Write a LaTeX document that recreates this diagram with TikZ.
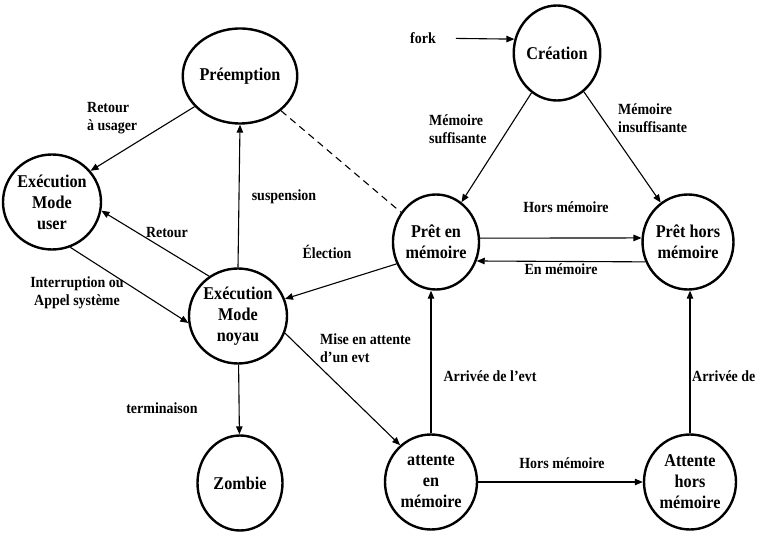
\documentclass[tikz,border=0pt]{standalone}
\usepackage{fontspec}
\setmainfont{Liberation Serif}[FakeStretch=0.9]
\usepackage{tikz}
\usetikzlibrary{arrows.meta}
\usetikzlibrary{shapes.geometric}

\begin{document}
\begin{tikzpicture}[x=1pt, y=-1pt,
    etat/.style={draw, ellipse, line width=2.4pt, inner sep=0pt, minimum width=85pt, minimum height=95pt,
      align=center, font=\fontsize{18}{21}\selectfont\bfseries},
    fl/.style={-{Triangle[length=8pt,width=6.5pt]}, line width=1.1pt},
    lab/.style={font=\fontsize{15.5}{18}\selectfont\bfseries, inner sep=0pt}]
      \useasboundingbox (0,0) rectangle (757,534);
      % etats
      \node[etat] (preemp) at (240,76) {Préemption};
      \node[etat] (user) at (52,202) {Exécution\\Mode\\user};
      \node[etat] (noyau) at (238,316) {Exécution\\Mode\\noyau};
      \node[etat] (zombie) at (240,483) {Zombie};
      \node[etat] (creation) at (557,53) {Création};
      \node[etat] (pretmem) at (436,242) {Prêt en\\mémoire};
      \node[etat] (prethors) at (688,242) {Prêt hors\\mémoire};
      \node[etat, minimum width=92pt] (attmem) at (431,482) {attente\\en\\mémoire};
      \node[etat, minimum width=92pt] (atthors) at (690,482) {Attente\\hors\\mémoire};
      \node[lab] (fork) at (423,38) {fork};
      % transitions
      \draw[fl, shorten <=20pt] (fork) -- (creation.162);
      \draw[fl] (creation) -- (pretmem);
      \draw[fl] (creation) -- (prethors);
      \draw[fl] (pretmem.5) -- (prethors.175);
      \draw[fl] (prethors.-155) -- (pretmem.-25);
      \draw[fl] (pretmem.209) -- (noyau.20);
      \draw[dash pattern=on 7pt off 5pt, line width=1.1pt] (preemp) -- (pretmem);
      \draw[fl] (noyau.north) -- (preemp.south);
      \draw[fl] (preemp.-146) -- (user.39);
      \draw[fl] (noyau.126) -- (user.-10);
      \draw[fl] (user.-68) -- (noyau.-172);
      \draw[fl] (noyau) -- (zombie);
      \draw[fl] (noyau.-20) -- (attmem.130);
      \draw[fl] (attmem.north) -- (attmem.north |- pretmem.south);
      \draw[fl] (attmem) -- (atthors);
      \draw[fl] (atthors.north) -- (atthors.north |- prethors.south);
      % etiquettes
      \node[lab, anchor=west, align=left] (l1) at (87,118) {Retour\\à usager};
      \node[lab] (l2) at (284,197) {suspension};
      \node[lab] (l3) at (167,233) {Retour};
      \node[lab] (l4) at (327,252) {Élection};
      \node[lab, align=center] (l5) at (77,293) {Interruption ou\\Appel système};
      \node[lab] (l6) at (162,408) {terminaison};
      \node[lab, anchor=west, align=left] (l7) at (320,348) {Mise en attente\\d’un evt};
      \node[lab, anchor=west, align=left] (l8) at (429,129) {Mémoire\\suffisante};
      \node[lab, anchor=west, align=left] (l9) at (618,118) {Mémoire\\insuffisante};
      \node[lab] (l10) at (566,207) {Hors mémoire};
      \node[lab] (l11) at (561,269) {En mémoire};
      \node[lab] (l12) at (490,376) {Arrivée de l’evt};
      \node[lab, anchor=west] (l13) at (692,376) {Arrivée de};
      \node[lab] (l14) at (562,463) {Hors mémoire};
    \end{tikzpicture}
\end{document}
